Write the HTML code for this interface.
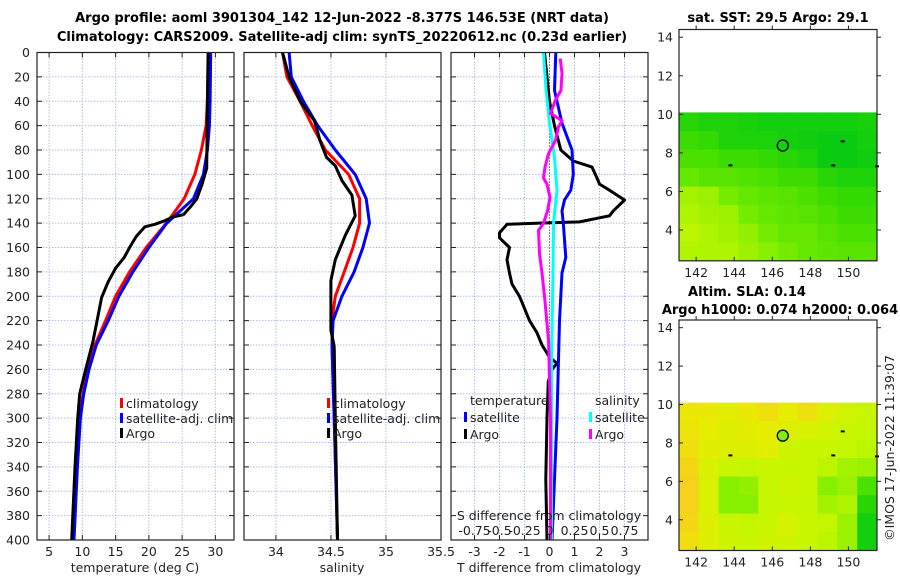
<!DOCTYPE html>
<html><head><meta charset="utf-8"><style>
body{margin:0;background:#fff}
svg{display:block;font-family:"DejaVu Sans","Liberation Sans",sans-serif}
</style></head><body>
<svg id="c" width="900" height="580" viewBox="0 0 900 580"></svg>
<script>
// ---- data ----
const depthTicks=[0,20,40,60,80,100,120,140,160,180,200,220,240,260,280,300,320,340,360,380,400];
const tempTicks=[5,10,15,20,25,30];
const salTicks=[34,34.5,35,35.5];
const tdiffTicks=[-3,-2,-1,0,1,2,3];
const sdiffTicks=[-0.75,-0.5,-0.25,0,0.25,0.5,0.75];
const lonTicks=[142,144,146,148,150];
const latTicks=[4,6,8,10,12,14];

const climTDepth=[0,40,60,80,100,120,140,160,180,200,220,240,260,280,300,340,400];
const climT=[29.0,28.8,28.6,27.9,26.9,25.3,22.65,19.6,17.1,15.0,13.5,11.9,10.9,10.1,9.6,9.2,8.7];
const satT=[29.3,29.2,29.1,28.8,28.2,26.7,22.7,20.0,17.6,15.5,13.9,12.1,11.0,10.2,9.7,9.25,8.75];
const argoTDepth=[0,40,95,108,120,127,133,135,138,141,143,151,160,168,177,188,201,215,237,260,280,300,340,400];
const argoT=[28.9,28.8,28.7,28.0,27.2,26.2,25.2,23.6,22.4,20.9,19.4,18.1,17.1,16.3,15.0,13.9,12.9,12.4,11.6,10.5,9.6,9.3,8.9,8.4];

const climSDepth=[0,20,40,60,80,100,120,140,160,180,200,220,240,300,400];
const climS=[34.06,34.1,34.22,34.33,34.45,34.66,34.76,34.76,34.7,34.62,34.54,34.51,34.51,34.53,34.56];
const satS=[34.12,34.14,34.25,34.38,34.54,34.72,34.82,34.85,34.79,34.71,34.6,34.52,34.51,34.53,34.56];
const argoSDepth=[0,20,40,56,62,72,86,93,105,117,134,150,170,187,205,228,241,300,400];
const argoS=[34.06,34.12,34.22,34.35,34.37,34.4,34.46,34.54,34.6,34.69,34.72,34.63,34.54,34.5,34.5,34.5,34.53,34.54,34.56];

const tdiffDepth=[0,20,40,60,80,89,94,103,108,113,121,130,134,139,140,141,148,152,160,170,181,190,200,210,220,230,240,250,255,260,270,300,350,400];
const argoTdiff=[-0.2,-0.1,0.0,0.2,0.45,0.95,1.7,1.9,2.0,2.4,3.0,2.55,2.4,1.2,-0.4,-1.7,-2.0,-2.0,-1.6,-1.7,-1.6,-1.5,-1.2,-1.0,-0.8,-0.5,-0.3,0.0,0.3,0.1,-0.05,-0.1,-0.15,-0.1];
const satTdiffDepth=[0,31,58,80,100,113,121,130,140,168,181,220,300,400];
const satTdiff=[0.25,0.2,0.5,0.9,0.95,0.85,0.6,0.5,0.55,0.65,0.5,0.4,0.3,0.1];
const satSdiffDepth=[0,30,58,86,113,140,181,250,400];
const satSdiff=[-0.06,-0.035,0.0,0.05,0.075,0.04,0.035,0.02,0.02];
const argoSdiffDepth=[5,17,31,39,50,56,61,72,83,94,103,108,119,130,140,146,165,181,204,236,300,400];
const argoSdiff=[0.107,0.125,0.115,0.06,0.01,0.125,0.09,0.06,-0.01,-0.045,-0.06,-0.025,0.005,-0.02,-0.06,-0.11,-0.1,-0.075,-0.045,-0.01,0.01,0.01];

const sstGrid=[
[0.2,0.15,0.15,0.12,0.1,0.1,0.1,0.1,0.1,0.12],
[0.3,0.25,0.15,0.15,0.15,0.1,0.08,0.05,0.05,0.1],
[0.35,0.35,0.3,0.3,0.25,0.2,0.15,0.05,0.05,0.08],
[0.45,0.4,0.4,0.38,0.35,0.3,0.3,0.2,0.15,0.15],
[0.62,0.6,0.5,0.45,0.42,0.4,0.35,0.3,0.25,0.25],
[0.65,0.62,0.6,0.5,0.45,0.42,0.4,0.35,0.3,0.3],
[0.68,0.65,0.62,0.58,0.5,0.45,0.45,0.4,0.35,0.35],
[0.66,0.65,0.65,0.6,0.55,0.5,0.45,0.42,0.4,0.4]];
const slaGrid=[
[0.87,0.86,0.82,0.86,0.9,0.84,0.9,0.8,0.75,0.72],
[0.88,0.84,0.8,0.82,0.84,0.8,0.78,0.75,0.72,0.7],
[0.9,0.82,0.8,0.8,0.82,0.74,0.72,0.72,0.7,0.68],
[0.93,0.78,0.72,0.7,0.72,0.72,0.72,0.68,0.62,0.6],
[0.95,0.78,0.55,0.58,0.7,0.74,0.72,0.55,0.6,0.35],
[0.95,0.78,0.55,0.55,0.7,0.72,0.7,0.62,0.65,0.2],
[0.93,0.8,0.72,0.7,0.72,0.77,0.72,0.7,0.6,0.1],
[0.9,0.8,0.74,0.72,0.74,0.74,0.72,0.68,0.6,0.1]];
const floatLon=146.55, floatLat=8.38;
const dotLon=[143.8,149.2,149.7,151.5], dotLat=[7.35,7.35,8.6,7.3];

// ---- helpers ----
const NS='http://www.w3.org/2000/svg', svg=document.getElementById('c');
function el(tag,a,parent){const e=document.createElementNS(NS,tag);for(const k in a)e.setAttribute(k,a[k]);(parent||svg).appendChild(e);return e;}
function txt(x,y,s,a){const e=el('text',Object.assign({x:x,y:y,'font-size':12.5,fill:'#222'},a||{}));e.textContent=s;return e;}
const Y0=52.5,Y1=540;
const yD=d=>Y0+(d/400)*(Y1-Y0);
function lin(d0,d1,p0,p1){return v=>p0+(v-d0)/(d1-d0)*(p1-p0);}
const P1={l:37,r:234,x:lin(3.18,32.8,37,234)};
const P2={l:244,r:441,x:lin(33.71,35.5,244,441)};
const P3={l:451,r:648,x:lin(-3.94,3.94,451,648)};
const xS=s=>P3.x(s*4);

function grid(P,ticks,name){
  ticks.forEach(t=>{const x=P.x(t);if(x>P.l+1&&x<P.r-1){const g=el('line',{x1:x,x2:x,y1:Y0,y2:Y1,stroke:'#aebcec','stroke-width':1,'stroke-dasharray':'1.5,1.5'});
  
  }});
  depthTicks.forEach(d=>{const y=yD(d);if(d>0&&d<400){const g=el('line',{x1:P.l,x2:P.r,y1:y,y2:y,stroke:'#aebcec','stroke-width':1,'stroke-dasharray':'1.5,1.5'});
  
  
  el('line',{x1:P.l,x2:P.l+5,y1:y,y2:y,stroke:'#222'});el('line',{x1:P.r-5,x2:P.r,y1:y,y2:y,stroke:'#222'});}});
}
function frame(P,name){const r=el('rect',{x:P.l,y:Y0,width:P.r-P.l,height:Y1-Y0,fill:'none',stroke:'#222','stroke-width':1.2});
  
  }
function xticks(P,ticks,fmt,name){ticks.forEach(t=>{const x=P.x(t);el('line',{x1:x,x2:x,y1:Y1-5,y2:Y1,stroke:'#222'});el('line',{x1:x,x2:x,y1:Y0,y2:Y0+5,stroke:'#222'});
  const l=txt(x,556,fmt(t),{'text-anchor':'middle'});
  
  });}
function series(xs,ds,fx,color,w,name){
  const pts=xs.map((v,i)=>fx(v).toFixed(1)+','+yD(ds[i]).toFixed(1)).join(' ');
  const p=el('polyline',{points:pts,fill:'none',stroke:color,'stroke-width':w,'stroke-linejoin':'round'});
  
  
}
function legend(x,y,color,label,name){el('rect',{x:x,y:y-10,width:3,height:10,fill:color});
  const t=txt(x+6,y,label);
  
  }

// titles
const t1=txt(342,22,'Argo profile: aoml 3901304_142 12-Jun-2022 -8.377S 146.53E (NRT data)',{'text-anchor':'middle','font-weight':'bold','font-size':13,fill:'#000'});


const t2=txt(342,41,'Climatology: CARS2009. Satellite-adj clim: synTS_20220612.nc (0.23d earlier)',{'text-anchor':'middle','font-weight':'bold','font-size':13,fill:'#000'});



// panel 1
grid(P1,tempTicks,'temperature');
depthTicks.forEach(d=>{const l=txt(30,yD(d)+4.5,String(d),{'text-anchor':'end'});
  
  });
series(climT,climTDepth,P1.x,'#f00',3,'temperature-climatology-line');
series(satT,climTDepth,P1.x,'#00f',3,'temperature-satellite-line');
series(argoT,argoTDepth,P1.x,'#000',3,'temperature-argo-line');
frame(P1,'temperature-panel');
xticks(P1,tempTicks,String,'temperature');
const xl1=txt(135,572,'temperature (deg C)',{'text-anchor':'middle'});


legend(120,408,'#f00','climatology','legend-climatology');
legend(120,423,'#00f','satellite-adj. clim','legend-satellite');
legend(120,438,'#000','Argo','legend-argo');

// panel 2
grid(P2,salTicks,'salinity');
series(climS,climSDepth,P2.x,'#f00',3,'salinity-climatology-line');
series(satS,climSDepth,P2.x,'#00f',3,'salinity-satellite-line');
series(argoS,argoSDepth,P2.x,'#000',3,'salinity-argo-line');
frame(P2,'salinity-panel');
xticks(P2,salTicks,String,'salinity');
const xl2=txt(342,572,'salinity',{'text-anchor':'middle'});


legend(327,408,'#f00','climatology','legend-climatology-2');
legend(327,423,'#00f','satellite-adj. clim','legend-satellite-2');
legend(327,438,'#000','Argo','legend-argo-2');

// panel 3
grid(P3,tdiffTicks,'difference');
el('line',{x1:P3.x(0),x2:P3.x(0),y1:Y0,y2:Y1,stroke:'#333','stroke-width':1,'stroke-dasharray':'1,2'});
series(argoTdiff,tdiffDepth,P3.x,'#000',3,'tdiff-argo-line');
series(satTdiff,satTdiffDepth,P3.x,'#00f',3,'tdiff-satellite-line');
series(satSdiff,satSdiffDepth,xS,'#0ff',3,'sdiff-satellite-line');
series(argoSdiff,argoSdiffDepth,xS,'#f0f',3,'sdiff-argo-line');
frame(P3,'difference-panel');
xticks(P3,tdiffTicks,String,'tdiff');
const xl3=txt(549,572,'T difference from climatology',{'text-anchor':'middle'});


const sl=txt(549,520,'S difference from climatology',{'text-anchor':'middle','font-size':12.5});


sdiffTicks.forEach(s=>{const l=txt(xS(s),535,String(s),{'text-anchor':'middle'});
  
  });
const lt=txt(470,405,'temperature');
const ls=txt(595,405,'salinity');
legend(464,422,'#00f','satellite','legend-t-satellite');
legend(464,439,'#000','Argo','legend-t-argo');
legend(589,422,'#0ff','satellite','legend-s-satellite');
legend(589,439,'#f0f','Argo','legend-s-argo');

// maps
const stops=[[0,[0,200,20]],[0.3,[60,220,0]],[0.5,[115,236,0]],[0.7,[195,246,0]],[0.85,[232,236,0]],[1,[252,196,40]]];
function cmap(v){for(let i=1;i<stops.length;i++){if(v<=stops[i][0]){const a=stops[i-1],b=stops[i],f=(v-a[0])/(b[0]-a[0]);return 'rgb('+a[1].map((c,k)=>Math.round(c+(b[1][k]-c)*f)).join(',')+')';}}return 'rgb(252,196,40)';}
function map(top,bot,gridv,name,filled){
  const L=679,R=877,lonX=lin(141.1,151.5,L,R),latY=lin(14.4,2.4,top,bot);
  const rows=gridv.length,cols=gridv[0].length,lat0=10.1,lat1=2.4,lon0=141.1,lon1=151.5;
  gridv.forEach((row,i)=>row.forEach((v,j)=>{
    const x0=lonX(lon0+(lon1-lon0)*j/cols),x1=lonX(lon0+(lon1-lon0)*(j+1)/cols);
    const y0=latY(lat0-(lat0-lat1)*i/rows),y1=latY(lat0-(lat0-lat1)*(i+1)/rows);
    const c=el('rect',{x:x0,y:y0,width:x1-x0+0.5,height:y1-y0+0.5,fill:cmap(v)});
    
    
  }));
  dotLon.forEach((lo,i)=>el('rect',{x:lonX(lo)-2,y:latY(dotLat[i])-1,width:4,height:2,fill:'#000'}));
  const m=el('circle',{cx:lonX(floatLon),cy:latY(floatLat),r:5.5,fill:filled||'none',stroke:'#000','stroke-width':1.3});
  
  
  const f=el('rect',{x:L,y:top,width:R-L,height:bot-top,fill:'none',stroke:'#222','stroke-width':1.2});
  
  
  lonTicks.forEach(t=>{const x=lonX(t);el('line',{x1:x,x2:x,y1:bot-4,y2:bot,stroke:'#222'});el('line',{x1:x,x2:x,y1:top,y2:top-4,stroke:'#222'});
    const l=txt(x,bot+16,String(t),{'text-anchor':'middle'});
    
    });
  latTicks.forEach(t=>{const y=latY(t);el('line',{x1:L,x2:L+4,y1:y,y2:y,stroke:'#222'});el('line',{x1:R,x2:R+4,y1:y,y2:y,stroke:'#222'});
    const l=txt(L-6,y+4.5,String(t),{'text-anchor':'end'});
    
    });
}
map(29.5,260.8,sstGrid,'sst-map');
map(320,550.5,slaGrid,'sla-map','#80ee10');
const mt1=txt(778,22,'sat. SST: 29.5 Argo: 29.1',{'text-anchor':'middle','font-weight':'bold','font-size':13,fill:'#000'});


const mt2=txt(747,296,'Altim. SLA: 0.14',{'text-anchor':'middle','font-weight':'bold','font-size':13,fill:'#000'});


const mt3=txt(780,314,'Argo h1000: 0.074 h2000: 0.064',{'text-anchor':'middle','font-weight':'bold','font-size':13,fill:'#000'});


const cr=txt(0,0,'©IMOS 17-Jun-2022 11:39:07',{'text-anchor':'middle','transform':'translate(894,448) rotate(-90)'});


</script>
</body></html>
